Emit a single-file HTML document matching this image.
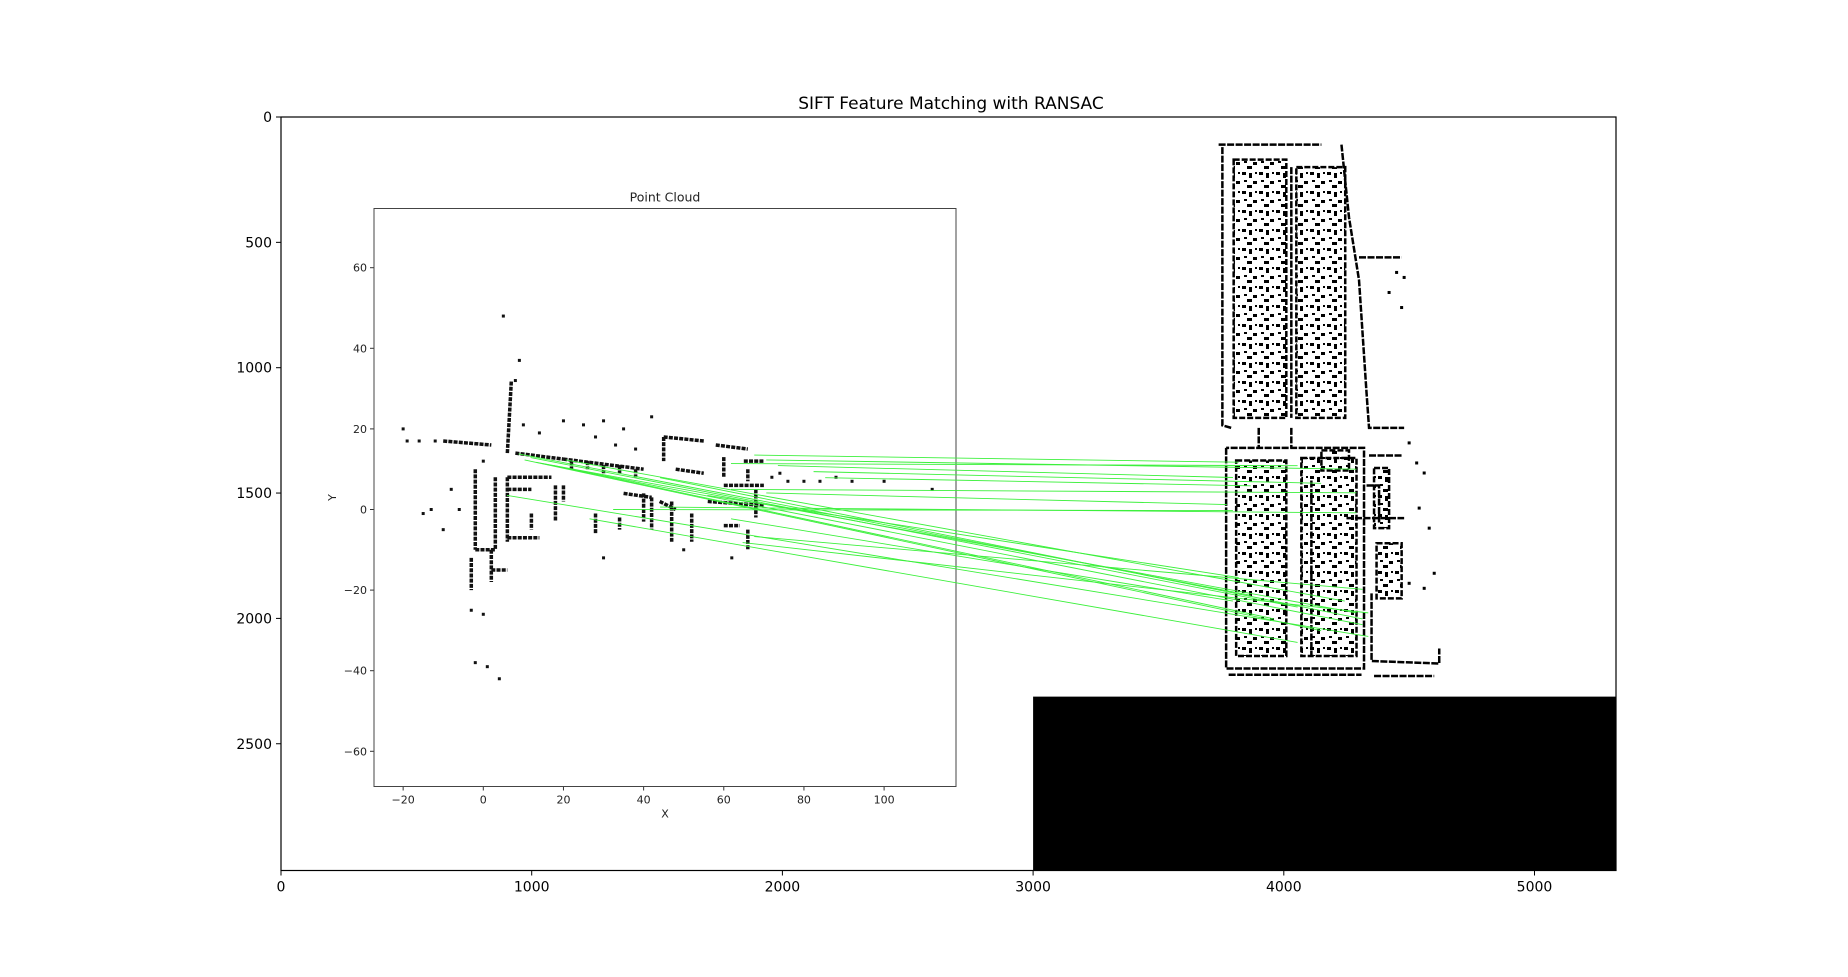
<!DOCTYPE html>
<html><head><meta charset="utf-8"><style>
html,body{margin:0;padding:0;background:#fff;}
svg{display:block;font-family:"DejaVu Sans","Liberation Sans",sans-serif;}
</style></head><body>
<svg id="fig" width="1848" height="977" viewBox="0 0 1848 977">
<defs>
<pattern id="speck" width="17" height="19" patternUnits="userSpaceOnUse">
<rect x="1" y="1" width="4" height="3" fill="#000"/><rect x="8" y="2" width="3" height="5" fill="#000"/>
<rect x="12" y="10" width="4" height="3" fill="#000"/><rect x="3" y="9" width="3" height="2" fill="#000"/>
<rect x="6" y="14" width="5" height="3" fill="#000"/><rect x="14" y="1" width="2" height="2" fill="#000"/>
</pattern>
</defs>
<rect width="1848" height="977" fill="#fff"/>
<text x="951" y="109" font-size="17" text-anchor="middle">SIFT Feature Matching with RANSAC</text>
<g id="outer-axes"></g>
<g id="pc"></g>
<g id="map"></g>
<g id="matches"></g>
<rect x="281" y="117" width="1335" height="753.5" fill="none" stroke="#000" stroke-width="1.2"/>
</svg>
<script>
// ---- data ----
const outerXTicks = [0, 1000, 2000, 3000, 4000, 5000];
const outerYTicks = [0, 500, 1000, 1500, 2000, 2500];
const innerXTicks = [-20, 0, 20, 40, 60, 80, 100];
const innerYTicks = [60, 40, 20, 0, -20, -40, -60];
// matches: left point (point cloud X,Y), right point (image px u,v)
const matchLX = [67.6,70.6,73.5,82.4,61.8,85.3,61.8,70.6,44.1,32.4,8.8,11.8,13.2,14.7,10.3,17.6,55.9,5.9,26.5,61.8,67.6,64.7,20.6,44.1];
const matchLY = [13.5,12.3,10.9,9.4,11.4,7.9,5.0,4.1,0.6,0,13.8,12.9,11.7,11.4,12.3,10.9,3.5,3.5,-2.3,-2.3,-6.7,-8.2,12.3,7.9];
const matchRU = [3820,4290,3797,4149,4055,3868,4290,3773,4290,3797,3868,4055,4290,4314,4149,3961,3820,4337,4055,3797,4314,4337,4243,4314];
const matchRV = [1377,1405,1438,1461,1391,1471,1499,1546,1579,1570,1908,1955,1978,2025,2049,2002,1837,2072,2096,1931,1884,1978,1931,2002];
// point cloud wall segments [x1,y1,x2,y2]
const pcSegs = [[-10,17,2,16],[6,14,7,32],[8,14,20,12.5],[20,12.5,40,10],[22,12,22,10],[26,12,26,10],[30,11,30,9],[34,11,34,9],[38,10,38,8],
 [45,18,55,17],[45,18,45,12],[58,16,66,15],[60,13,60,8],[65,12,70,12],[66,10,66,7],[60,6,70,6],[48,10,55,9],
 [-2,10,-2,-10],[3,8,3,-10],[-2,-10,3,-10],[6,8,6,-8],[6,8,17,8],[6,-7,14,-7],[18,6,18,-3],[20,6,20,2],[6,5,12,5],
 [35,4,42,3],[40,4,40,-3],[42,3,42,-5],[44,2,48,0],[47,2,47,-8],[52,-1,52,-8],[56,2,70,1],[68,5,68,-2],[66,-5,66,-10],
 [-3,-12,-3,-20],[2,-10,2,-18],[2,-15,6,-15],[60,-4,64,-4],[28,-1,28,-6],[34,-2,34,-5],[12,-1,12,-5]];
const pcPts = [[5,48],[9,37],[8,32],[-20,20],[-16,17],[-12,17],[-19,17],[-3,-25],[0,-26],[-2,-38],[1,-39],[4,-42],[-8,5],[-15,-1],[-13,0],[-10,-5],
 [20,22],[25,21],[30,22],[35,20],[42,23],[28,18],[33,16],[38,15],[14,19],[10,21],[72,8],[76,7],[80,7],[84,7],[88,8],[92,7],[100,7],[112,5],[74,9],[0,12],[-6,0],[30,-12],[50,-10],[62,-12]];
// map rectangles (image px): [u,v,w,h]
const mapBlocks = [[3800,170,210,1030],[4050,200,195,1000],[3810,1370,200,780],[4070,1360,220,790],[4360,1400,60,240],[4370,1700,100,220],[4150,1330,110,80]];
const mapWalls = [[[3755,120],[3755,1230],[3790,1240]],[[3740,110],[4150,110]],[[4230,110],[4260,400],[4300,650],[4330,1100],[4340,1240],[4480,1240]],
 [[3770,1320],[3770,2200],[4320,2200],[4320,1320],[3770,1320]],[[3900,1240],[3900,1320]],[[4030,1240],[4030,1320]],[[4030,200],[4030,1200]],
 [[4350,1900],[4350,2170],[4620,2180],[4620,2120]],[[4340,1350],[4470,1350]],[[4250,1600],[4480,1600]],[[3780,2225],[4310,2225]],[[4360,2230],[4600,2230]],
 [[4300,560],[4470,560]],[[4330,1470],[4380,1470],[4380,1620]],[[4110,1450],[4110,2150]]];
const mapDots = [[4450,620],[4480,640],[4420,700],[4470,760],[4500,1300],[4530,1380],[4560,1420],[4540,1560],[4580,1640],[4600,1820],[4560,1880],[4500,1860]];

const NS='http://www.w3.org/2000/svg';
function mk(tag, attrs, parent){const e=document.createElementNS(NS,tag);for(const k in attrs)e.setAttribute(k,attrs[k]);parent.appendChild(e);return e;}
// outer axes
const SC=0.2507;
const ox=u=>281+u*SC, oy=v=>117+v*SC;
const AXR=1616, AXB=870.5;
const OA=document.getElementById('outer-axes');
outerXTicks.forEach(t=>{
  const l=mk('line',{x1:ox(t),x2:ox(t),y1:AXB,y2:AXB+5,stroke:'#000'},OA);
  
  
  const tx=mk('text',{x:ox(t),y:AXB+21,'font-size':14,'text-anchor':'middle'},OA);tx.textContent=t;
  
  
});
outerYTicks.forEach(t=>{
  const l=mk('line',{x1:276,x2:281,y1:oy(t),y2:oy(t),stroke:'#000'},OA);
  
  
  const tx=mk('text',{x:272,y:oy(t)+5,'font-size':14,'text-anchor':'end'},OA);tx.textContent=t;
  
  
});
const blk=mk('rect',{x:ox(3000),y:oy(2312),width:AXR-ox(3000),height:AXB-oy(2312),fill:'#000'},OA);



// inner point cloud
const L=374,R=956,T=208.5,B=786.5;
const ix=x=>483.3+x*4.008, iy=y=>509.5-y*4.03;
const PC=document.getElementById('pc');
const t2=mk('text',{x:(L+R)/2,y:T-7,'font-size':12.5,'text-anchor':'middle',fill:'#222'},PC);t2.textContent='Point Cloud';


innerXTicks.forEach(t=>{
  mk('line',{x1:ix(t),x2:ix(t),y1:B,y2:B+4,stroke:'#333'},PC);
  const tx=mk('text',{x:ix(t),y:B+17,'font-size':11,'text-anchor':'middle',fill:'#222'},PC);tx.textContent=String(t).replace('-','\u2212');
  
  
});
innerYTicks.forEach(t=>{
  mk('line',{x1:L-4,x2:L,y1:iy(t),y2:iy(t),stroke:'#333'},PC);
  const tx=mk('text',{x:L-7,y:iy(t)+4,'font-size':11,'text-anchor':'end',fill:'#222'},PC);tx.textContent=String(t).replace('-','\u2212');
  
  
});
const xl=mk('text',{x:(L+R)/2,y:B+31,'font-size':11,'text-anchor':'middle',fill:'#222'},PC);xl.textContent='X';


const yl=mk('text',{x:0,y:0,'font-size':11,'text-anchor':'middle',fill:'#222',transform:`translate(336,${(T+B)/2}) rotate(-90)`},PC);yl.textContent='Y';


pcSegs.forEach(s=>{
  const l=mk('line',{x1:ix(s[0]),y1:iy(s[1]),x2:ix(s[2]),y2:iy(s[3]),stroke:'#111','stroke-width':3.5,'stroke-dasharray':'4 1.2'},PC);
  
  
});
pcPts.forEach(p=>{
  const c=mk('rect',{x:ix(p[0])-1.5,y:iy(p[1])-1.5,width:3,height:3,fill:'#111'},PC);
  
  
});
const fr=mk('rect',{x:L,y:T,width:R-L,height:B-T,fill:'none',stroke:'#444','stroke-width':1},PC);



// map
const MP=document.getElementById('map');
mapBlocks.forEach(b=>{
  const r=mk('rect',{x:ox(b[0]),y:oy(b[1]),width:b[2]*SC,height:b[3]*SC,fill:'url(#speck)',stroke:'#000','stroke-width':2.5,'stroke-dasharray':'6 2'},MP);
  
  
});
mapWalls.forEach(w=>{
  const p=mk('polyline',{points:w.map(q=>ox(q[0])+','+oy(q[1])).join(' '),fill:'none',stroke:'#000','stroke-width':2.5,'stroke-dasharray':'7 1.5'},MP);
  
  
});
mapDots.forEach(d=>{
  const r=mk('rect',{x:ox(d[0])-1.5,y:oy(d[1])-1.5,width:3,height:3,fill:'#000'},MP);
  
  
});

// matches
const MT=document.getElementById('matches');
matchLX.forEach((x,i)=>{
  const l=mk('line',{x1:ix(x),y1:iy(matchLY[i]),x2:ox(matchRU[i]),y2:oy(matchRV[i]),stroke:'#3cf03c','stroke-width':0.9},MT);
  
  
});
</script>
</body></html>
